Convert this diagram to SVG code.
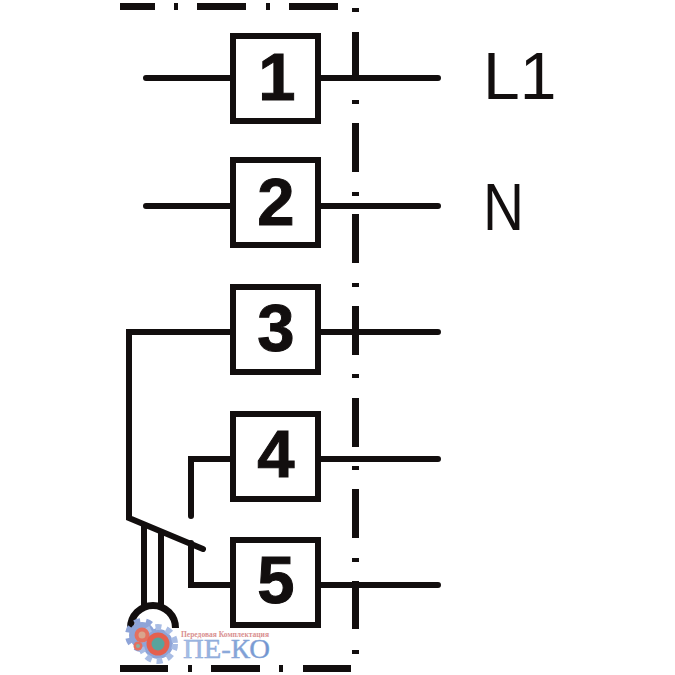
<svg xmlns="http://www.w3.org/2000/svg" width="675" height="675" viewBox="0 0 675 675">
<style>
.w{fill:none;stroke:#120e0e;stroke-width:6;stroke-linecap:round;stroke-linejoin:miter}
.b{fill:none;stroke:#120e0e;stroke-width:6}
.c{fill:none;stroke:#120e0e;stroke-width:7}
.d{font-family:"Liberation Sans",Arial,sans-serif;font-weight:700;font-size:67px;fill:#120e0e;text-anchor:middle;stroke:#120e0e;stroke-width:1}
.l{font-family:"Liberation Sans",Arial,sans-serif;font-size:66px;fill:#120e0e}
.f{fill:#120e0e}
</style>
<defs>
<linearGradient id="wm" x1="0" x2="1" y1="0" y2="0"><stop offset="0" stop-color="#a9bfe6"/><stop offset="1" stop-color="#6e93cf"/></linearGradient>
</defs>
<rect width="675" height="675" fill="#fff"/>
<g id="frame" class="f">
<rect x="120" y="3" width="35" height="7"/><rect x="174" y="3" width="4" height="7"/><rect x="197" y="3" width="49" height="7"/><rect x="266" y="3" width="4" height="7"/><rect x="289" y="3" width="49" height="7"/>
<rect x="120" y="665" width="48" height="7"/><rect x="188" y="665" width="4" height="7"/><rect x="211" y="665" width="49" height="7"/><rect x="279" y="665" width="4" height="7"/><rect x="303" y="665" width="48" height="7"/>
<rect x="352" y="8" width="7" height="4"/><rect x="352" y="32" width="7" height="48"/><rect x="352" y="100" width="7" height="4"/><rect x="352" y="123" width="7" height="49"/><rect x="352" y="192" width="7" height="4"/><rect x="352" y="214" width="7" height="49"/><rect x="352" y="283" width="7" height="4"/><rect x="352" y="306" width="7" height="49"/><rect x="352" y="374" width="7" height="4"/><rect x="352" y="398" width="7" height="49"/><rect x="352" y="466" width="7" height="4"/><rect x="352" y="489" width="7" height="49"/><rect x="352" y="558" width="7" height="4"/><rect x="352" y="581" width="7" height="48"/><rect x="352" y="650" width="7" height="4"/>
</g>
<g id="connectors">
<path class="w" d="M146 78H230M321 78H438"/>
<path class="w" d="M146 206H230M321 206H438"/>
<path class="w" d="M230 332H129V518L203 549M321 332H438"/>
<path class="w" d="M230 459H191V516M321 459H438"/>
<path class="w" stroke-linecap="butt" d="M230 585H191V543M321 585H438"/>
<path class="w" d="M144 526V605M161 533V605"/>
<path class="c" d="M130.500 628A22.500 22.500 0 0 1 175.500 628"/>
</g>
<g id="node1"><rect class="b" x="233" y="36" width="85" height="85"/><text class="d" x="277" y="100">1</text></g>
<g id="node2"><rect class="b" x="233" y="160" width="85" height="85"/><text class="d" x="276" y="225">2</text></g>
<g id="node3"><rect class="b" x="233" y="287" width="85" height="85"/><text class="d" x="276" y="351">3</text></g>
<g id="node4"><rect class="b" x="233" y="414" width="85" height="85"/><text class="d" x="276" y="477">4</text></g>
<g id="node5"><rect class="b" x="233" y="540" width="85" height="85"/><text class="d" x="276" y="603">5</text></g>
<g id="labels"><text class="l" x="483" y="99">L1</text><text class="l" x="483" y="230" textLength="41" lengthAdjust="spacingAndGlyphs">N</text></g>
<g id="watermark">
<circle cx="142" cy="635" r="13" fill="#8ea4d8"/>
<circle cx="142" cy="635" r="14.500" fill="none" stroke="#8ea4d8" stroke-width="5" stroke-dasharray="6 6"/>
<circle cx="158" cy="644" r="15" fill="#8ea4d8"/>
<circle cx="158" cy="644" r="17" fill="none" stroke="#a8bce4" stroke-width="6" stroke-dasharray="6 5"/>
<circle cx="142" cy="635" r="7.500" fill="#e4705f"/>
<circle cx="142" cy="635" r="3.500" fill="#d9a58c"/>
<circle cx="138" cy="646" r="4.500" fill="#e4705f"/>
<circle cx="138" cy="646" r="2" fill="#8fb0a0"/>
<circle cx="158" cy="644" r="11.500" fill="#e4604f"/>
<circle cx="158" cy="644" r="6.500" fill="#58a39c"/>
<text x="181" y="637" font-family="Liberation Serif,serif" font-size="8" font-weight="700" fill="#d99090" textLength="88" lengthAdjust="spacingAndGlyphs">Передовая Комплектация</text>
<text x="183" y="658" font-family="Liberation Serif,serif" font-size="27" fill="url(#wm)" stroke="#8aa8d8" stroke-width=".4" textLength="87" lengthAdjust="spacingAndGlyphs">ПЕ-КО</text>
</g>
</svg>
